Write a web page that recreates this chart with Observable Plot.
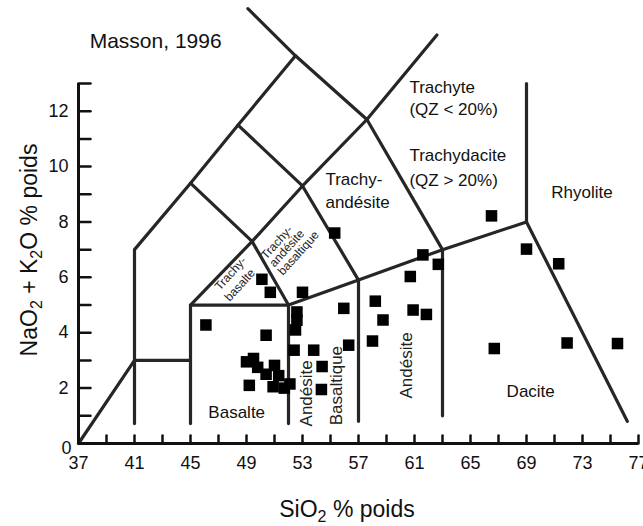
<!DOCTYPE html>
<html><head><meta charset="utf-8">
<script src="https://cdn.jsdelivr.net/npm/d3@7"></script>
<script src="https://cdn.jsdelivr.net/npm/@observablehq/plot@0.6"></script>
<style>body{margin:0;background:#fff} svg{display:block}</style>
</head><body><div id="chart"></div>
<script>
// axis ticks and labels
const xTickValues = [37,39,41,43,45,47,49,51,53,55,57,59,61,63,65,67,69,71,73,75,77];
const xLabels = [37,41,45,49,53,57,61,65,69,73,77];
const yTickValues = [0,1,2,3,4,5,6,7,8,9,10,11,12,13];
const yLabels = [0,2,4,6,8,10,12];

// samples: SiO2 and Na2O+K2O (% poids)
const sio2 = [46.1,50.1,50.7,53.0,50.4,52.6,52.6,52.5,52.4,53.8,54.4,54.35,
  49.0,49.5,49.8,50.4,51.0,51.3,50.9,51.7,52.1,49.2,
  55.3,61.6,62.7,60.7,58.2,55.95,60.9,61.85,58.75,58.0,56.3,
  66.5,69.0,71.3,66.7,71.9,75.5];
const alk = [4.28,5.93,5.46,5.46,3.91,4.75,4.45,4.1,3.37,3.37,2.78,1.95,
  2.95,3.07,2.75,2.5,2.82,2.45,2.05,2.0,2.15,2.1,
  7.6,6.81,6.47,6.03,5.14,4.88,4.82,4.66,4.46,3.7,3.55,
  8.22,7.02,6.49,3.43,3.63,3.61];

// TAS boundary polylines
const boundaries = [
  [[37,0],[41,3],[45,3]],
  [[41,0.72],[41,7],[45,9.4],[48.4,11.5],[52.5,14]],
  [[45,0.72],[45,5],[52,5]],
  [[45,5],[49.4,7.3],[53,9.3],[57.6,11.7],[62.6,14.75]],
  [[45,9.4],[49.4,7.3],[52,5],[52,0.72]],
  [[48.4,11.5],[53,9.3],[57,5.9],[57,0.8]],
  [[49.1,15.7],[52.5,14],[57.6,11.7],[63,7],[63,1.0]],
  [[52,5],[57,5.9],[63,7],[69,8],[76.2,0.8]],
  [[69,8],[69,13]]
];

// field labels
const leftNames = ["Trachyte","(QZ < 20%)","Trachydacite","(QZ > 20%)","Trachy-","andésite"];
const leftX =     [60.64,60.64,60.64,60.64,54.64,54.64];
const leftY =     [12.86,12.06,10.40,9.50,9.53,8.70];
const midNames = ["Rhyolite","Basalte","Dacite"];
const midX = [72.96,48.3,69.3];
const midY = [9.06,1.12,1.88];
const vertNames = ["Andésite","Basaltique","Andésite"];
const vertX = [53.3,55.45,60.4];
const vertY = [1.81,2.09,2.82];
const smallNames = ["Trachy-","basalte","Trachy-","andésite","basaltique"];
const smallX = [46.9,47.6,50.2,50.8,51.4];
const smallY = [5.6,5.2,6.72,6.44,6.14];

const flat = boundaries.flatMap((seg,i)=>seg.map(p=>({x:p[0],y:p[1],seg:i})));
const pts = sio2.map((s,i)=>({x:s,y:alk[i]}));
const tickShape = {draw(ctx,l){ctx.moveTo(0,0);ctx.lineTo(0,-l);}};
const FONT = "Liberation Sans, Arial, Helvetica, sans-serif";

const svg = Plot.plot({
  width: 643, height: 526,
  marginLeft: 78, marginRight: 5, marginTop: 83, marginBottom: 83,
  x: {domain: [37,77], axis: null},
  y: {domain: [0,13], axis: null},
  style: {fontFamily: FONT, background: "white", overflow: "visible"},
  marks: [
    Plot.line(flat, {x:"x", y:"y", z:"seg", stroke:"#262626", strokeWidth:3.2}),
    Plot.ruleY([0], {x1:37, x2:77, stroke:"#111", strokeWidth:3}),
    Plot.ruleX([37], {y1:0, y2:13, stroke:"#111", strokeWidth:3}),
    Plot.vector(xTickValues, {x:d=>d, y:0, length:8, rotate:0, anchor:"start", shape:tickShape, stroke:"#111", strokeWidth:2.5}),
    Plot.vector(yTickValues, {x:37, y:d=>d, length:12, rotate:90, anchor:"start", shape:tickShape, stroke:"#111", strokeWidth:2.5}),
    Plot.text(xLabels, {x:d=>d, y:0, dy:20, text:d=>String(d), fontSize:18, fill:"#111"}),
    Plot.text(yLabels.filter(d=>d>0), {x:37, y:d=>d, dx:-10, textAnchor:"end", text:d=>String(d), fontSize:18, fill:"#111"}),
    Plot.text([0], {x:37, y:0, dx:-7, dy:5, textAnchor:"end", text:d=>String(d), fontSize:18, fill:"#111"}),
    Plot.dot(pts, {x:"x", y:"y", symbol:"square", r:6.5, fill:"#000", stroke:null}),
    Plot.text(leftNames, {x:(d,i)=>leftX[i], y:(d,i)=>leftY[i], text:d=>d, textAnchor:"start", fontSize:17, fill:"#111"}),
    Plot.text(midNames, {x:(d,i)=>midX[i], y:(d,i)=>midY[i], text:d=>d, textAnchor:"middle", fontSize:17, fill:"#111"}),
    Plot.text(vertNames, {x:(d,i)=>vertX[i], y:(d,i)=>vertY[i], text:d=>d, rotate:-90, fontSize:17, fill:"#222"}),
    Plot.text(smallNames, {x:(d,i)=>smallX[i], y:(d,i)=>smallY[i], text:d=>d, rotate:-48, textAnchor:"start", fontSize:12, fill:"#222"}),
    Plot.text(["Masson, 1996"], {x:37.8, y:14.3, text:d=>d, textAnchor:"start", lineAnchor:"bottom", fontSize:21, fill:"#111"})
  ]
});

const s = d3.select(svg);
const xt = s.append("text").attr("x",347).attr("y",517).attr("text-anchor","middle")
  .attr("font-family",FONT).attr("font-size",23).attr("fill","#111");
xt.append("tspan").text("SiO");
xt.append("tspan").attr("font-size",16).attr("dy",5).text("2");
xt.append("tspan").attr("dy",-5).text(" % poids");

const yt = s.append("text").attr("transform","translate(37,250) rotate(-90)").attr("text-anchor","middle")
  .attr("font-family",FONT).attr("font-size",23).attr("fill","#111");
yt.append("tspan").text("NaO");
yt.append("tspan").attr("font-size",16).attr("dy",5).text("2");
yt.append("tspan").attr("dy",-5).text(" + K");
yt.append("tspan").attr("font-size",16).attr("dy",5).text("2");
yt.append("tspan").attr("dy",-5).text("O % poids");

document.getElementById("chart").appendChild(svg);
</script>
</body></html>
